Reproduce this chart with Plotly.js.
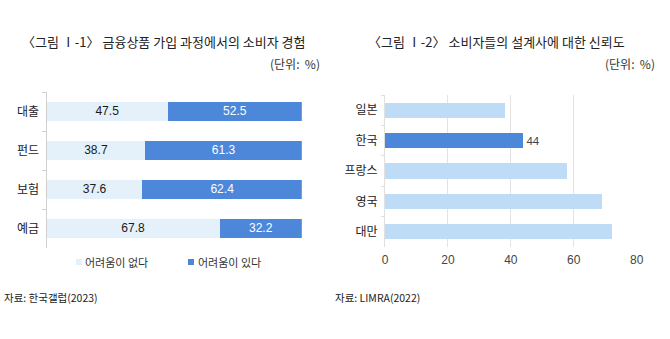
<!DOCTYPE html>
<html><head><meta charset="utf-8">
<script src="https://cdn.plot.ly/plotly-3.0.1.min.js"></script>
<style>html,body{margin:0;padding:0;background:#fff}#c{width:670px;height:339px}</style>
</head><body><div id="c"></div>
<script>
// Left chart data
const leftCats = ['대출', '펀드', '보험', '예금'];
const noDifficulty = [47.5, 38.7, 37.6, 67.8];
const difficulty = [52.5, 61.3, 62.4, 32.2];
const leftSeriesNames = ['어려움이 없다', '어려움이 있다'];
// Right chart data
const countries = ['일본', '한국', '프랑스', '영국', '대만'];
const trust = [38, 44, 58, 69, 72];
const highlight = '한국';
const rightTicks = [0, 20, 40, 60, 80];

const KR = '"Noto Sans CJK KR", "Noto Sans", sans-serif';
const NUM = '"Liberation Sans", Arial, sans-serif';
const W = 670, H = 339;
const px = v => v / W, py = v => 1 - v / H;

const lightC = '#e4f0fa', darkC = '#4c87da', barLight = '#bedcf6';

const traces = [
  { type: 'bar', orientation: 'h', y: leftCats, x: noDifficulty, name: leftSeriesNames[0],
    xaxis: 'x', yaxis: 'y', marker: { color: lightC }, showlegend: false,
    text: noDifficulty.map(v => v.toFixed(1)), textposition: 'inside', insidetextanchor: 'middle',
    textfont: { family: NUM, size: 12.5, color: '#1a1a1a' }, hoverinfo: 'none' },
  { type: 'bar', orientation: 'h', y: leftCats, x: difficulty, name: leftSeriesNames[1],
    xaxis: 'x', yaxis: 'y', marker: { color: darkC }, showlegend: false,
    text: difficulty.map(v => v.toFixed(1)), textposition: 'inside', insidetextanchor: 'middle',
    textfont: { family: NUM, size: 12.5, color: '#ffffff' }, hoverinfo: 'none' },
  { type: 'bar', orientation: 'h', y: countries, x: trust, showlegend: false,
    xaxis: 'x2', yaxis: 'y2',
    marker: { color: countries.map(c => c === highlight ? darkC : barLight) },
    text: trust.map((v, i) => countries[i] === highlight ? String(v) : ''),
    textposition: 'outside', cliponaxis: false,
    textfont: { family: NUM, size: 11.5, color: '#444' }, hoverinfo: 'none' }
];

const ann = (text, x, y, anchor, size, color) => ({ text, x: px(x), y: py(y), xref: 'paper', yref: 'paper',
  xanchor: anchor, yanchor: 'middle', showarrow: false, font: { family: KR, size, color } });

const layout = {
  width: W, height: H, margin: { l: 0, r: 0, t: 0, b: 0 },
  paper_bgcolor: '#fff', plot_bgcolor: 'rgba(0,0,0,0)',
  barmode: 'stack', bargap: 0.5, showlegend: false,
  font: { family: KR, color: '#222' },
  xaxis: { domain: [px(46.5), px(301.8)], range: [0, 100], visible: false, fixedrange: true },
  yaxis: { domain: [py(248), py(92)], autorange: 'reversed', type: 'category',
    showline: true, linecolor: '#d0d0d0', linewidth: 1,
    ticks: 'outside', tickson: 'boundaries', ticklen: 4, tickcolor: '#d0d0d0',
    showgrid: false, tickfont: { family: KR, size: 12, color: '#222' }, ticklabelstandoff: 4 },
  xaxis2: { domain: [px(385), px(636.7)], range: [0, 80], anchor: 'y2',
    tickvals: rightTicks, showgrid: true, gridcolor: '#e3e3e3', zeroline: false,
    showline: false, ticks: '', tickfont: { family: NUM, size: 12, color: '#444' }, ticklabelstandoff: 4 },
  yaxis2: { domain: [py(247), py(95)], anchor: 'x2', autorange: 'reversed', type: 'category',
    showline: true, linecolor: '#e0e0e0', ticks: 'outside', tickson: 'boundaries', ticklen: 3,
    tickcolor: '#e0e0e0', showgrid: false,
    tickfont: { family: KR, size: 12, color: '#222' }, ticklabelstandoff: 4 },
  shapes: [
    { type: 'rect', xref: 'paper', yref: 'paper', x0: px(76), x1: px(82), y0: py(265), y1: py(259),
      fillcolor: lightC, line: { width: 0 } },
    { type: 'rect', xref: 'paper', yref: 'paper', x0: px(188), x1: px(194), y0: py(265), y1: py(259),
      fillcolor: darkC, line: { width: 0 } }
  ],
  annotations: [
    ann(leftSeriesNames[0], 83, 262, 'left', 11, '#333'),
    ann(leftSeriesNames[1], 196, 262, 'left', 11, '#333'),
    ann('〈그림 Ⅰ-1〉 금융상품 가입 과정에서의 소비자 경험', 20, 41, 'left', 13, '#222'),
    ann('(단위:  %)', 322, 63, 'right', 12, '#333'),
    ann('〈그림 Ⅰ-2〉 소비자들의 설계사에 대한 신뢰도', 366, 41, 'left', 13, '#222'),
    ann('(단위:  %)', 657, 63, 'right', 12, '#333'),
    ann('자료: 한국갤럽(2023)', 2, 297, 'left', 10.5, '#222'),
    ann('자료: LIMRA(2022)', 333, 297, 'left', 10.5, '#222')
  ]
};

Plotly.newPlot('c', traces, layout, { staticPlot: true, displayModeBar: false });
</script></body></html>
